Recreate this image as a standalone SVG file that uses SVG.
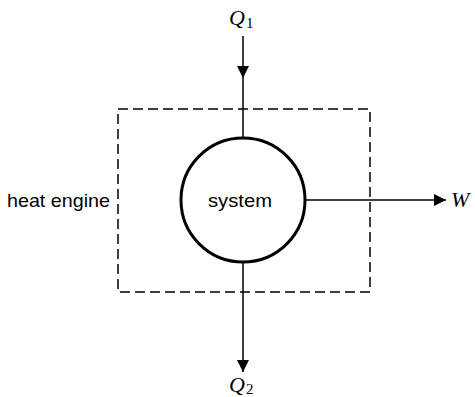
<svg xmlns="http://www.w3.org/2000/svg" width="475" height="397" viewBox="0 0 475 397">
<style>
.ln{stroke:#000;stroke-width:1.5;fill:none}
.lbl{font-family:"Liberation Sans",Arial,sans-serif;font-size:19px;fill:#000}
.q{font-family:"Liberation Serif","Times New Roman",serif;font-style:italic;font-size:22px;fill:#000}
.sub{font-family:"Liberation Serif","Times New Roman",serif;font-style:normal;font-size:15px;fill:#000}
</style>
<defs>
<marker id="ah" viewBox="0 0 12 12" refX="12" refY="6" markerWidth="12" markerHeight="12" markerUnits="userSpaceOnUse" orient="auto">
<path d="M0,0 L12,6 L0,12 Z" fill="#000"/>
</marker>
</defs>
<rect width="475" height="397" fill="#fff"/>
<g id="connectors">
<line class="ln" x1="243" y1="36" x2="243" y2="78" marker-end="url(#ah)"/>
<line class="ln" x1="243" y1="78" x2="243" y2="137"/>
<line class="ln" x1="243" y1="263" x2="243" y2="372" marker-end="url(#ah)"/>
<line class="ln" x1="306" y1="200" x2="446" y2="200" marker-end="url(#ah)"/>
</g>
<g id="heat-engine">
<rect x="118" y="109" width="252" height="183" fill="none" stroke="#000" stroke-width="1.5" stroke-dasharray="10,5"/>
<text class="lbl" x="7" y="207" textLength="103" lengthAdjust="spacingAndGlyphs">heat engine</text>
</g>
<g id="system">
<circle cx="243" cy="200" r="62" fill="#fff" stroke="#000" stroke-width="3"/>
<text class="lbl" x="208" y="207" textLength="64" lengthAdjust="spacingAndGlyphs">system</text>
</g>
<g id="Q1">
<text class="q" x="229" y="25">Q<tspan class="sub" dx="1" dy="3">1</tspan></text>
</g>
<g id="Q2">
<text class="q" x="229" y="392">Q<tspan class="sub" dx="1" dy="2">2</tspan></text>
</g>
<g id="W">
<text class="q" x="451" y="207">W</text>
</g>
</svg>
